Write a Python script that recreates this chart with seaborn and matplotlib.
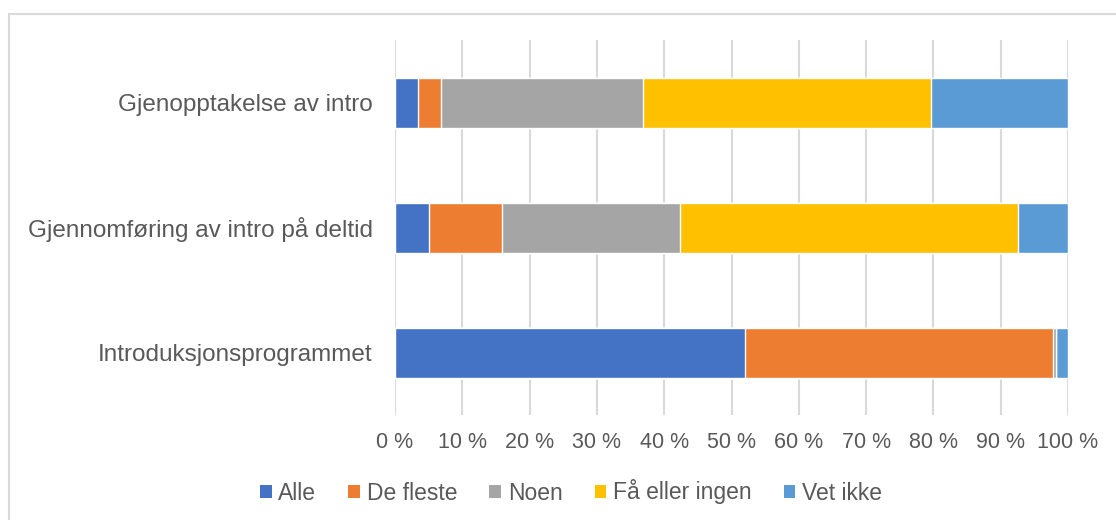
import numpy as np
import pandas as pd
import seaborn as sns
import matplotlib.pyplot as plt
from matplotlib.patches import Patch, Rectangle

categories = ["Gjenopptakelse av intro", "Gjennomføring av intro på deltid", "Introduksjonsprogrammet"]
series = ["Alle", "De fleste", "Noen", "Få eller ingen", "Vet ikke"]
alle = [3.4, 5.1, 52.0]
de_fleste = [3.5, 10.8, 45.7]
noen = [30.0, 26.4, 0.5]
faa = [42.8, 50.2, 0.0]
vet_ikke = [20.3, 7.5, 1.8]
colors = ["#4472C4", "#ED7D31", "#A5A5A5", "#FFC000", "#5B9BD5"]
ticks = list(range(0, 101, 10))

sns.set_style("white")
plt.rcParams['font.family'] = ['Liberation Sans', 'DejaVu Sans']

df = pd.DataFrame({"kategori": categories, "Alle": alle, "De fleste": de_fleste,
                   "Noen": noen, "Få eller ingen": faa, "Vet ikke": vet_ikke})
cum = df[series].cumsum(axis=1)

fig = plt.figure(figsize=(11.16, 5.2), dpi=100)
ax = fig.add_axes([395 / 1116, 1 - 415 / 520, (1068 - 395) / 1116, 375 / 520])

# stacked bars: draw cumulative totals from the back
for name, col in reversed(list(zip(series, colors))):
    sns.barplot(x=cum[name], y=df["kategori"], orient="h", color=col, width=0.4,
                saturation=1, ax=ax, order=categories, zorder=3)

ax.set_xlim(0, 100)
ax.set_ylim(2.5, -0.5)
ax.set_xticks(ticks)
ax.set_xticklabels([f"{t} %" for t in ticks])
ax.set_xlabel("")
ax.set_ylabel("")
ax.grid(axis="x", color="#d9d9d9", linewidth=1.5, zorder=0)
ax.set_axisbelow(True)
for s in ax.spines.values():
    s.set_visible(False)
ax.tick_params(axis="x", length=0, pad=12, labelsize=15.5, labelcolor="#595959")
ax.tick_params(axis="y", length=0, pad=16, labelsize=17.5, labelcolor="#595959")

handles = [Patch(facecolor=c, edgecolor="none", label=n) for n, c in zip(series, colors)]
fig.legend(handles=handles, loc="center", bbox_to_anchor=(571 / 1116, 1 - 492 / 520),
           ncol=5, frameon=False, fontsize=16.5, labelcolor="#595959",
           handlelength=0.5, handleheight=0.5, handletextpad=0.3, columnspacing=1.4)

fig.patches.append(Rectangle((9 / 1116, -0.1), 1.2, 1 - 14 / 520 + 0.1, transform=fig.transFigure,
                             fill=False, edgecolor="#d9d9d9", linewidth=1.5))

fig.savefig("out.png", dpi=100)
